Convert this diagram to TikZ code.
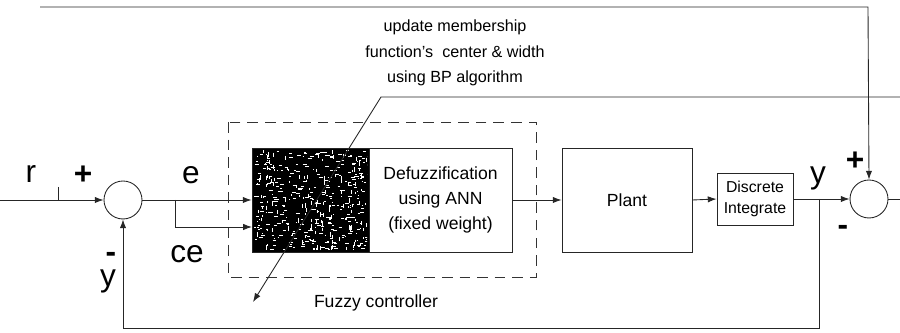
\documentclass[tikz,border=0pt]{standalone}
\usepackage{fontspec}
\setmainfont{Liberation Sans}
\usetikzlibrary{arrows.meta}

\begin{document}
\begin{tikzpicture}[x=0.02cm,y=-0.02cm,
  wire/.style={draw=black!85,line width=0.5pt},
  arr/.style={wire,-{Latex[length=5pt,width=3.6pt]}},
  sumnode/.style={circle,draw=black!85,line width=0.5pt,minimum size=0.76cm,inner sep=0pt},
  blockbox/.style={rectangle,draw=black!85,line width=0.5pt,inner sep=0pt,align=center},
  biglabel/.style={inner sep=0pt,anchor=base,text height=1.1ex,text depth=0.22em,
    font=\fontsize{18}{20}\selectfont},
  sign/.style={inner sep=0pt,anchor=base,text height=1.1ex,text depth=0pt,
    font=\fontsize{18}{20}\selectfont\bfseries}]
\useasboundingbox (0,0) rectangle (900,333);

% fuzzy controller frame
\draw[black!80,line width=0.5pt,dash pattern=on 6pt off 4pt] (228,122) rectangle (536,277);

% summing junctions
\node[sumnode] (s1) at (123,200) {};
\node[sumnode] (s2) at (869,199) {};

% blocks
\node[blockbox,fill=black,minimum width=2.34cm,minimum height=2.08cm] (fz) at (310.5,200) {};
\node[blockbox,minimum width=2.86cm,minimum height=2.08cm,font=\fontsize{10}{14.2}\selectfont] (dz) at (440.5,200)
  {Defuzzification\\using ANN\\(fixed weight)};
\node[blockbox,minimum width=2.6cm,minimum height=2.08cm,font=\fontsize{10}{12}\selectfont] (pl) at (627,200) {Plant};
\node[blockbox,minimum width=1.52cm,minimum height=1.04cm,font=\fontsize{9}{12}\selectfont] (di) at (755,199)
  {Discrete\\Integrate};

% grainy texture of the rule block
\pgfmathsetseed{17}
\begin{scope}
\clip (254,150) rectangle (367,250);
\foreach \i in {1,...,300}{
  \pgfmathsetmacro\px{254+113*rnd}
  \pgfmathsetmacro\py{150+100*rnd}
  \pgfmathsetmacro\ln{1+3.5*rnd}
  \draw[white,line width=0.35pt] (\px,\py) -- (\px+\ln,\py);
}
\foreach \i in {1,...,160}{
  \pgfmathsetmacro\px{254+113*rnd}
  \pgfmathsetmacro\py{150+100*rnd}
  \pgfmathsetmacro\ln{1+4*rnd}
  \draw[white,line width=0.35pt] (\px,\py) -- (\px,\py+\ln);
}
\end{scope}

% helper points
\coordinate (rin) at (0,200);
\coordinate (tickb) at (58,200);
\coordinate (ticka) at (58,187);
\coordinate (topl) at (40,7);
\coordinate (topr) at (868,7);
\coordinate (eb) at (175,200);
\coordinate (ce1) at (175,227);
\coordinate (ce2) at (252,227);
\coordinate (yb) at (819,199);
\coordinate (yb1) at (819,328);
\coordinate (yb2) at (123,328);
\coordinate (eout) at (900,199);
\coordinate (bpin) at (900,97);
\coordinate (bpk) at (381,97);
\coordinate (bpend) at (253,302);

% signal paths
\draw[arr] (rin) -- (s1.west);
\draw[wire] (ticka) -- (tickb);
\draw[arr] (s1.east) -- (fz.west |- s1.east);
\draw[wire] (eb) -- (ce1);
\draw[arr] (ce1) -- (ce2);
\draw[arr] (dz.east) -- (pl.west);
\draw[arr] (pl.east) -- (di.west);
\draw[arr] (di.east) -- (s2.west);
\draw[arr] (yb) -- (yb1) -- (yb2) -- (s1.south);
\draw[arr] (topl) -- (topr) -- (s2.north);
\draw[wire] (s2.east) -- (eout);
\draw[arr] (bpin) -- (bpk) -- (bpend);

% labels (placed by baseline)
\node[biglabel] (lr) at (31,183) {r};
\node[sign] (lp1) at (83,185) {+};
\node[biglabel] (le) at (191,184) {e};
\node[biglabel] (lce) at (187,263) {ce};
\node[sign] (lm1) at (111,263) {-};
\node[biglabel] (ly1) at (108,287) {y};
\node[biglabel] (ly2) at (818,184) {y};
\node[sign] (lp2) at (855,171) {+};
\node[sign] (lm2) at (843,236) {-};

\node[font=\fontsize{9.2}{14.5}\selectfont,align=center] (bp) at (455,53)
  {update membership\\function's\ \ center \& width\\using BP algorithm};
\node[font=\fontsize{10}{12}\selectfont] (fc) at (376,303) {Fuzzy controller};
\end{tikzpicture}
\end{document}
